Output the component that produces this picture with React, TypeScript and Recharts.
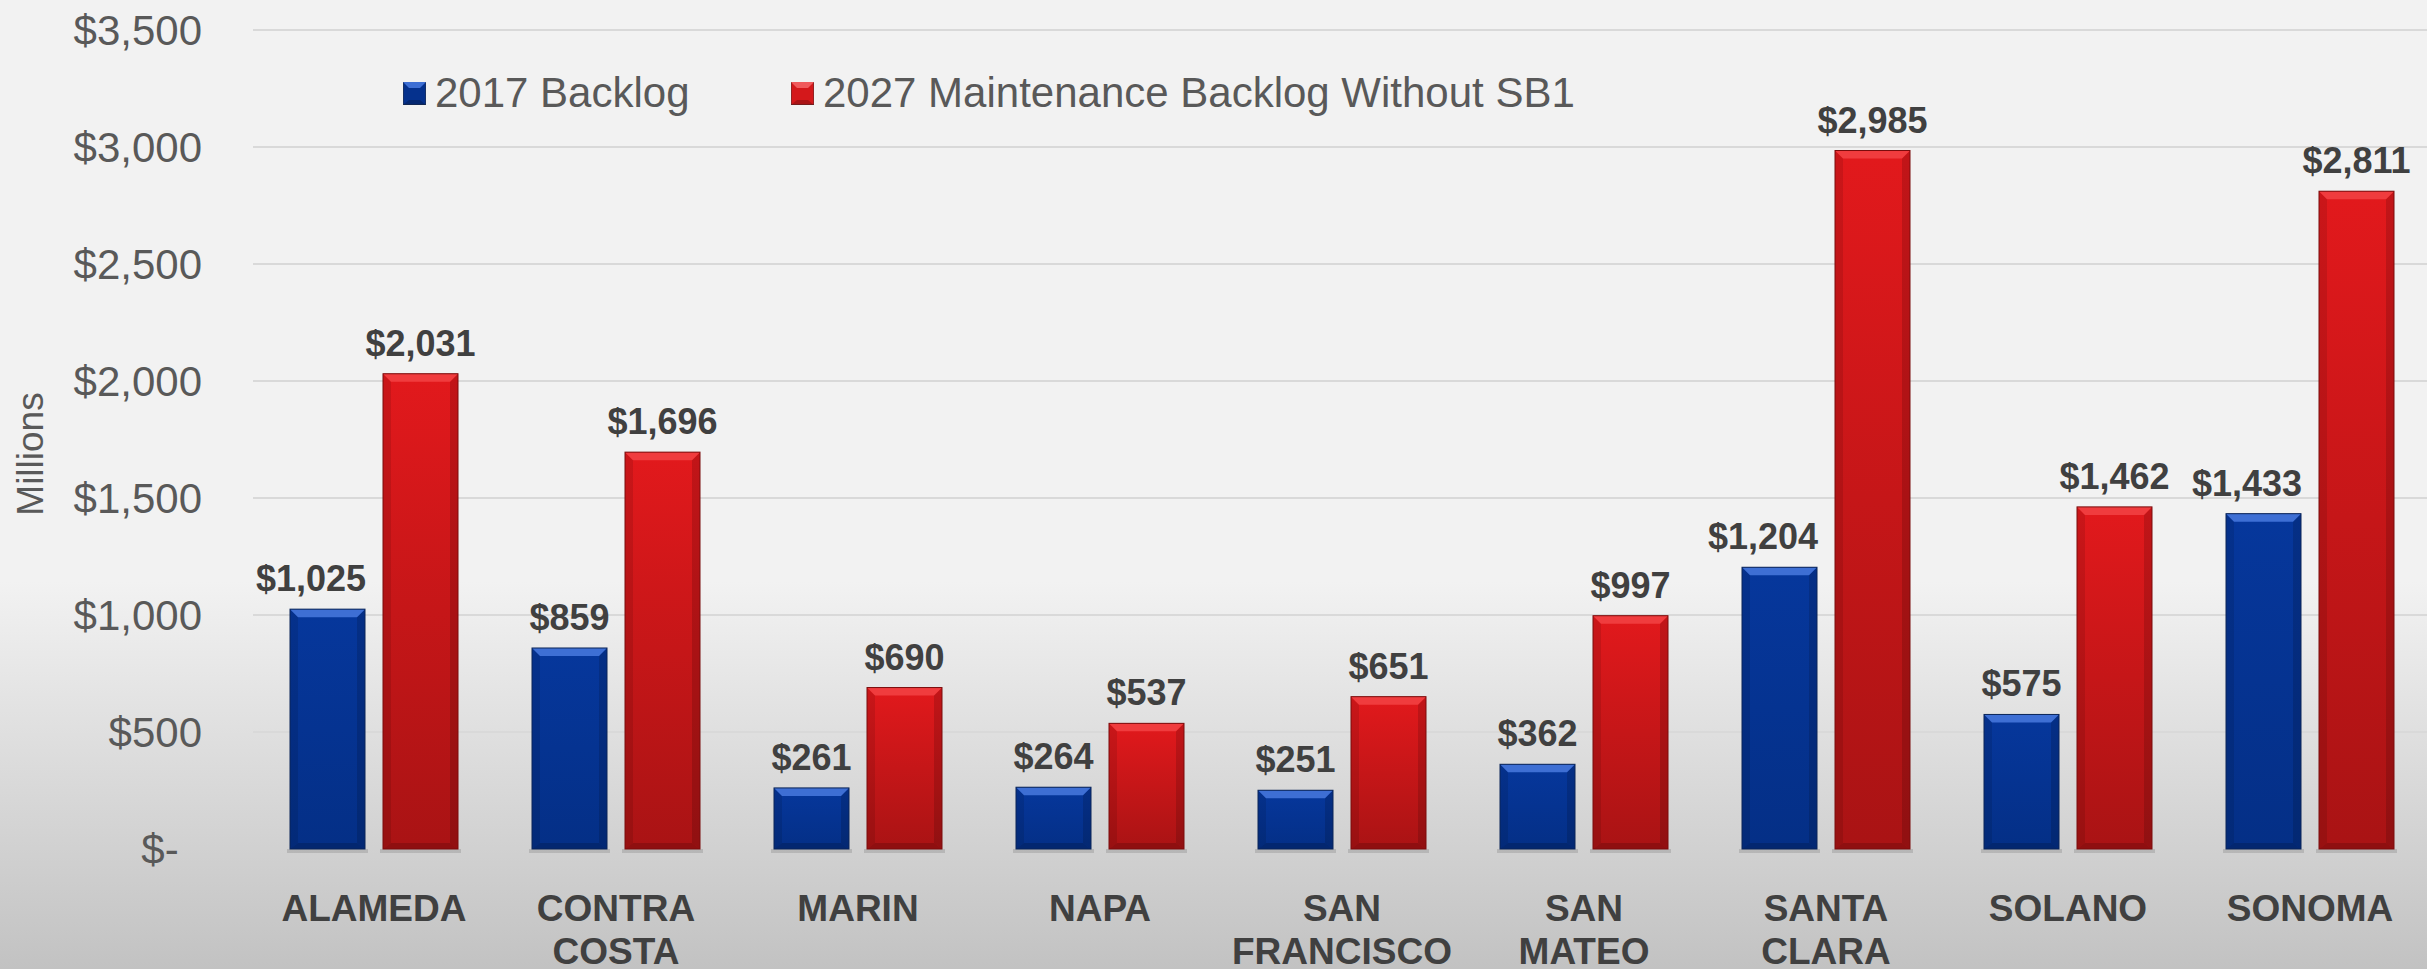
import { BarChart, Bar, XAxis, YAxis, CartesianGrid, Legend, LabelList } from 'recharts';

const FONT = '"Liberation Sans", Arial, Helvetica, sans-serif';

const counties = ['ALAMEDA', 'CONTRA COSTA', 'MARIN', 'NAPA', 'SAN FRANCISCO', 'SAN MATEO', 'SANTA CLARA', 'SOLANO', 'SONOMA'];
const backlog2017 = [1025, 859, 261, 264, 251, 362, 1204, 575, 1433];
const backlog2027 = [2031, 1696, 690, 537, 651, 997, 2985, 1462, 2811];
const yTicks = [0, 500, 1000, 1500, 2000, 2500, 3000, 3500];
const seriesNames = ['2017 Backlog', '2027 Maintenance Backlog Without SB1'];

const data = counties.map((county, i) => ({
    county,
    b2017: backlog2017[i],
    b2027: backlog2027[i],
}));

const money = (v: any) => '$' + Number(v).toLocaleString('en-US');
const yFormat = (v: number) => (v === 0 ? '$-\u00A0\u00A0' : money(v));

// bevelled bar, like the office "bevel" effect
function bevelShape(main: string, top: string, bottom: string, edge: string) {
    return (props: any) => {
        const { x, y, width: w, height: h } = props;
        if (!h || h <= 0) return null;
        const b = 8;
        const bb = 6;
        return (
            <g>
                <rect x={x - 3} y={y + h} width={w + 6} height={4} fill="#7a7a7a" opacity={0.3} />
                <rect x={x} y={y} width={w} height={h} fill={main} />
                <polygon points={`${x},${y} ${x + b},${y + b} ${x + b},${y + h - bb} ${x},${y + h}`} fill="#000" opacity={0.1} />
                <polygon points={`${x + w},${y} ${x + w - b},${y + b} ${x + w - b},${y + h - bb} ${x + w},${y + h}`} fill="#000" opacity={0.14} />
                <polygon points={`${x},${y} ${x + w},${y} ${x + w - b},${y + b} ${x + b},${y + b}`} fill={top} />
                <polygon points={`${x},${y + h} ${x + b},${y + h - bb} ${x + w - b},${y + h - bb} ${x + w},${y + h}`} fill={bottom} />
                <rect x={x} y={y} width={w} height={h} fill="none" stroke={edge} strokeWidth={1} />
            </g>
        );
    };
}

const blueBar = bevelShape('url(#blueGrad)', '#3e6fd4', '#032770', '#0b2558');
const redBar = bevelShape('url(#redGrad)', '#f03c3e', '#8f0f10', '#7a0d0d');

// value label; long blue labels get pushed left so they end at the bar's right edge
const valueLabel = (shiftLong: boolean) => (props: any) => {
    const { x, y, width, value } = props;
    const text = money(value);
    const wide = shiftLong && text.length > 4;
    return (
        <text
            x={wide ? x + width + 1 : x + width / 2}
            y={y - 18}
            textAnchor={wide ? 'end' : 'middle'}
            fill="#404040"
            fontSize={36}
            fontWeight="bold"
            fontFamily={FONT}
        >
            {text}
        </text>
    );
};

function Marker({ color, light }: { color: string; light: string }) {
    return (
        <svg width={23} height={23} style={{ display: 'block' }}>
            <rect x={0} y={0} width={23} height={23} fill={color} stroke="#333" strokeWidth={0.8} />
            <polygon points="0,0 23,0 17,6 6,6" fill={light} />
            <polygon points="0,23 6,18 17,18 23,23" fill="#000" opacity={0.2} />
        </svg>
    );
}

const renderLegend = () => (
    <div style={{ position: 'relative', height: 46, fontFamily: FONT, fontSize: 42, color: '#595959' }}>
        <div style={{ position: 'absolute', left: 0, top: 0, height: 46, display: 'flex', alignItems: 'center', whiteSpace: 'nowrap' }}>
            <Marker color="#05318d" light="#3e6fd4" />
            <span style={{ marginLeft: 9 }}>{seriesNames[0]}</span>
        </div>
        <div style={{ position: 'absolute', left: 388, top: 0, height: 46, display: 'flex', alignItems: 'center', whiteSpace: 'nowrap' }}>
            <Marker color="#d4181b" light="#f05a5c" />
            <span style={{ marginLeft: 9 }}>{seriesNames[1]}</span>
        </div>
    </div>
);

const CountyTick = (props: any) => {
    const { x, y, payload } = props;
    const lines = String(payload.value).split(' ');
    return (
        <text x={x} y={y} textAnchor="middle" fill="#404040" fontFamily={FONT} fontSize={37} fontWeight="bold">
            {lines.map((line, i) => (
                <tspan key={i} x={x} dy={i === 0 ? '0.71em' : 43}>
                    {line}
                </tspan>
            ))}
        </text>
    );
};

const MillionsLabel = () => (
    <text x={43} y={454} textAnchor="middle" transform="rotate(-90, 43, 454)" fill="#595959" fontFamily={FONT} fontSize={37}>
        Millions
    </text>
);

export default function App() {
    return (
        <div
            style={{
                position: 'absolute',
                top: 0,
                left: 0,
                width: 2427,
                height: 969,
                overflow: 'hidden',
                background: 'linear-gradient(to bottom, #f2f2f2 0%, #f2f2f2 60%, #c2c2c2 100%)',
            }}
        >
            <BarChart
                width={2427}
                height={969}
                data={data}
                margin={{ top: 30, right: -4, bottom: 0, left: 0 }}
                barSize={75}
                barGap={18}
            >
                <defs>
                    <linearGradient id="blueGrad" x1="0" y1="0" x2="0" y2="1">
                        <stop offset="0%" stopColor="#06379c" />
                        <stop offset="100%" stopColor="#042f86" />
                    </linearGradient>
                    <linearGradient id="redGrad" x1="0" y1="0" x2="0" y2="1">
                        <stop offset="0%" stopColor="#e2191c" />
                        <stop offset="100%" stopColor="#a91314" />
                    </linearGradient>
                </defs>
                <CartesianGrid vertical={false} stroke="#d9d9d9" strokeWidth={2} horizontalValues={yTicks.slice(1)} />
                <XAxis
                    dataKey="county"
                    height={120}
                    interval={0}
                    axisLine={false}
                    tickLine={false}
                    tickSize={0}
                    tickMargin={46}
                    tick={<CountyTick />}
                />
                <YAxis
                    width={253}
                    domain={[0, 3500]}
                    ticks={yTicks}
                    tickFormatter={yFormat}
                    axisLine={false}
                    tickLine={false}
                    tickSize={0}
                    tickMargin={51}
                    tick={{ fill: '#595959', fontSize: 42, fontFamily: FONT }}
                    label={<MillionsLabel />}
                />
                <Legend
                    layout="horizontal"
                    verticalAlign="middle"
                    align="center"
                    content={renderLegend}
                    wrapperStyle={{ top: 70, left: 403, width: 1400, height: 46 }}
                />
                <Bar dataKey="b2017" name={seriesNames[0]} fill="#05318d" shape={blueBar} isAnimationActive={false}>
                    <LabelList dataKey="b2017" content={valueLabel(true)} />
                </Bar>
                <Bar dataKey="b2027" name={seriesNames[1]} fill="#d4181b" shape={redBar} isAnimationActive={false}>
                    <LabelList dataKey="b2027" content={valueLabel(false)} />
                </Bar>
            </BarChart>
        </div>
    );
}
